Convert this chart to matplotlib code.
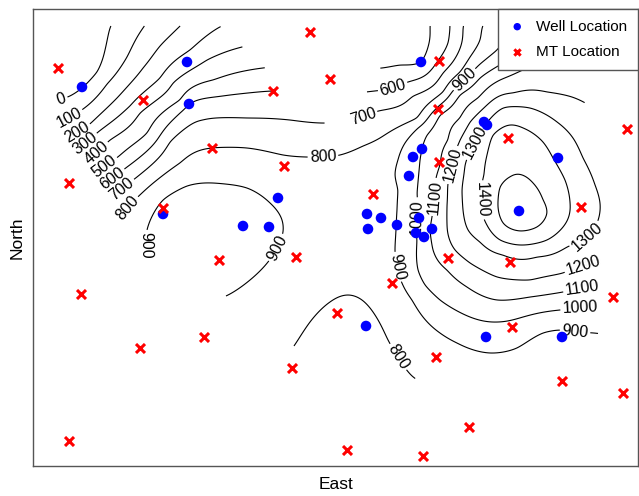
import numpy as np
import matplotlib
matplotlib.use("Agg")
import matplotlib.pyplot as plt
from matplotlib.path import Path

plt.rcParams['font.family'] = ['Liberation Sans', 'DejaVu Sans']

# map coordinates: east, and southing measured from the northern reference line
TOP = 500.0

well_e = [82, 187, 189, 163, 243, 269, 278, 421, 484, 487, 422, 413, 409, 367, 381, 368,
          397, 419, 416, 424, 432, 558, 519, 366, 486, 562]
well_s = [87, 62, 104, 214, 226, 227, 198, 62, 122, 125, 149, 157, 176, 214, 218, 229,
          225, 218, 233, 237, 229, 158, 211, 326, 337, 337]

mt_e = [58, 310, 330, 143, 273, 69, 212, 284, 163, 439, 438, 439, 373, 508, 627, 581,
        219, 296, 81, 140, 204, 292, 69, 347, 448, 392, 337, 510, 613, 512, 436, 562,
        623, 469, 423]
mt_s = [68, 32, 79, 100, 91, 183, 148, 166, 208, 61, 109, 162, 194, 138, 129, 207,
        260, 257, 294, 348, 337, 368, 441, 450, 258, 283, 313, 262, 297, 327, 357, 381,
        393, 427, 456]

# depth contour traces: (east, southing) points per level
iso_0 = [(56, 101), (70, 96), (82, 88), (97, 72), (105, 50), (110, 28)]
iso_100 = [(59, 122), (83, 109), (107, 84), (127, 57), (143, 28)]
iso_200 = [(67, 138), (90, 124), (117, 98), (143, 68), (160, 46), (178, 28)]
iso_300 = [(75, 150), (98, 132), (130, 106), (160, 78), (190, 50), (218, 28)]
iso_400 = [(86, 161), (110, 140), (140, 113), (173, 83), (207, 60), (242, 47)]
iso_500 = [(94, 175), (118, 157), (147, 133), (180, 100), (213, 80), (263, 68),
           (382, 68), (400, 65), (421, 62), (428, 47), (430, 28)]
iso_600 = [(101, 186), (127, 167), (157, 140), (180, 113), (189, 104), (230, 95), (273, 91),
           (366, 92), (393, 88), (408, 82), (437, 62), (448, 43), (450, 28)]
iso_700 = [(111, 198), (137, 177), (170, 142), (203, 120), (247, 118), (290, 120), (328, 123),
           (350, 120), (363, 117), (378, 111), (413, 96), (443, 73), (457, 55), (463, 28)]
iso_800 = [(119, 219), (142, 193), (180, 163), (212, 148), (247, 148), (283, 155), (307, 157),
           (323, 157), (340, 155), (363, 146), (380, 138), (417, 118), (443, 92), (460, 72),
           (470, 57), (480, 40), (482, 28),
           (296, 343), (310, 322), (330, 302), (348, 295), (362, 300), (375, 315), (388, 340),
           (398, 357), (412, 376)]
iso_900 = [(146, 252), (147, 230), (163, 200), (187, 186), (213, 183), (247, 188), (270, 203),
           (282, 220), (283, 232), (277, 248), (268, 262), (250, 280), (230, 294),
           (497, 50), (485, 60), (465, 80), (452, 92), (435, 110), (418, 128), (405, 143),
           (398, 160), (395, 175), (398, 190), (397, 210), (396, 230), (395, 250), (397, 267),
           (402, 283), (412, 300), (423, 317), (440, 333), (457, 343), (490, 353), (517, 348),
           (543, 333), (560, 330), (575, 332), (594, 333)]
iso_1000 = [(498, 66), (480, 78), (460, 95), (440, 115), (427, 135), (420, 160), (417, 193),
            (417, 217), (417, 240), (418, 270), (425, 285), (440, 300), (470, 317), (497, 322),
            (523, 317), (560, 310), (580, 308), (596, 308)]
iso_1100 = [(525, 69), (500, 80), (478, 98), (460, 118), (448, 140), (440, 165), (435, 197),
            (432, 217), (430, 230), (433, 250), (447, 270), (467, 287), (497, 300), (530, 297),
            (563, 292), (582, 288), (597, 287)]
iso_1200 = [(572, 97), (547, 92), (513, 93), (487, 105), (470, 122), (460, 140), (455, 152),
            (453, 165), (448, 183), (447, 205), (447, 223), (449, 238), (455, 250), (470, 263),
            (497, 277), (530, 280), (563, 273), (583, 265), (598, 262)]
iso_1300 = [(486, 124), (503, 108), (530, 108), (557, 122), (573, 138), (583, 158), (595, 185),
            (600, 203), (597, 223), (587, 237), (567, 247), (537, 257), (503, 255), (480, 242),
            (468, 230), (463, 210), (462, 190), (465, 165), (475, 142)]
iso_1400 = [(484, 175), (487, 155), (493, 135), (510, 125), (523, 128), (543, 142), (553, 158),
            (565, 180), (570, 203), (563, 227), (547, 240), (523, 245), (500, 240), (487, 225),
            (482, 200)]
iso_1500 = [(500, 187), (510, 177), (522, 175), (533, 183), (543, 200), (547, 213), (537, 227),
            (520, 231), (503, 223), (498, 207)]
# spot values inside plateaus / peak
spot_e = [520, 330, 360, 310, 370, 225, 200, 350, 220, 300]
spot_s = [205, 210, 265, 255, 185, 225, 245, 335, 166, 138]
spot_v = [1560, 855, 830, 855, 860, 950, 935, 770, 850, 750]

iso_traces = [(0, iso_0), (100, iso_100), (200, iso_200), (300, iso_300), (400, iso_400),
              (500, iso_500), (600, iso_600), (700, iso_700), (800, iso_800), (900, iso_900),
              (1000, iso_1000), (1100, iso_1100), (1200, iso_1200), (1300, iso_1300),
              (1400, iso_1400), (1500, iso_1500)]
levels = list(range(0, 1600, 100))

# extent of the gridded survey (east, southing)
domain = [(57, 100), (60, 124), (68, 140), (76, 152), (88, 163), (95, 177), (102, 189),
          (113, 201), (120, 222), (146, 258), (230, 298), (296, 348), (413, 380), (500, 363),
          (598, 338), (599, 300), (600, 265), (604, 230), (607, 190), (601, 140), (586, 103),
          (560, 68), (545, 25), (405, 25), (395, 45), (380, 67), (366, 92), (349, 123),
          (332, 127), (276, 93), (265, 68), (244, 47), (220, 25), (107, 25)]

# label anchor points (east, southing)
label_pts = [(61, 98), (68, 115), (77, 132), (85, 143), (97, 153), (105, 167), (112, 178),
             (123, 190), (130, 210), (148, 245), (323, 157), (277, 248), (393, 88), (363, 117),
             (465, 80), (397, 267), (417, 217), (435, 197), (453, 165), (475, 142), (482, 200),
             (587, 237), (583, 265), (582, 288), (580, 308), (575, 332), (398, 357)]

# ---- build control table
ce, cn, cv = [], [], []
for lev, pts in iso_traces:
    for e, s in pts:
        ce.append(e); cn.append(TOP - s); cv.append(lev)
for e, s, v in zip(spot_e, spot_s, spot_v):
    ce.append(e); cn.append(TOP - s); cv.append(v)
ce = np.array(ce, float); cn = np.array(cn, float); cv = np.array(cv, float)


def tps_fit_eval(x, y, v, gx, gy, lam=2e-3, sc=100.0):
    x = x / sc; y = y / sc; gx = gx / sc; gy = gy / sc
    def kern(d):
        with np.errstate(divide='ignore', invalid='ignore'):
            k = d * d * np.log(d)
        k[d == 0] = 0.0
        return k
    d = np.hypot(x[:, None] - x[None, :], y[:, None] - y[None, :])
    n = len(x)
    K = kern(d) + lam * np.eye(n)
    P = np.column_stack([np.ones(n), x, y])
    A = np.zeros((n + 3, n + 3))
    A[:n, :n] = K; A[:n, n:] = P; A[n:, :n] = P.T
    b = np.concatenate([v, np.zeros(3)])
    sol = np.linalg.solve(A, b)
    w, a = sol[:n], sol[n:]
    gxf = gx.ravel(); gyf = gy.ravel()
    out = np.empty(gxf.size)
    step = 8000
    for i in range(0, gxf.size, step):
        dd = np.hypot(gxf[i:i + step, None] - x[None, :], gyf[i:i + step, None] - y[None, :])
        out[i:i + step] = kern(dd) @ w + a[0] + a[1] * gxf[i:i + step] + a[2] * gyf[i:i + step]
    return out.reshape(gx.shape)


ge = np.arange(40, 616, 1.5)
gn = TOP - np.arange(20, 392, 1.5)
GE, GN = np.meshgrid(ge, gn)
Z = tps_fit_eval(ce, cn, cv, GE, GN)
poly = Path([(e, TOP - s) for e, s in domain])
inside = poly.contains_points(np.column_stack([GE.ravel(), GN.ravel()])).reshape(GE.shape)
Zm = np.ma.masked_where(~inside, Z)

# ---- figure
fig = plt.figure(figsize=(6.39, 4.96), dpi=100)
ax = fig.add_axes([33 / 639, (496 - 466) / 496, (638 - 33) / 639, (466 - 9) / 496])
ax.set_xlim(33, 638)
ax.set_ylim(TOP - 466, TOP - 9)

cs = ax.contour(GE, GN, Zm, levels=levels, colors='k', linewidths=0.8, zorder=1)
ax.clabel(cs, manual=[(e, TOP - s) for e, s in label_pts], inline=True, fmt='%d',
          fontsize=11.5, inline_spacing=2)

ax.scatter(well_e, [TOP - s for s in well_s], s=58, c='blue', marker='o',
           edgecolors='none', label='Well Location', zorder=3)
ax.scatter(mt_e, [TOP - s for s in mt_s], s=42, c='red', marker='x', linewidths=2.2,
           label='MT Location', zorder=3)

ax.set_xticks([]); ax.set_yticks([])
for sp in ax.spines.values():
    sp.set_color('#555555'); sp.set_linewidth(1.0)
ax.set_xlabel('East', fontsize=12.5, labelpad=8)
ax.set_ylabel('North', fontsize=12.5, labelpad=6)

leg = ax.legend(loc='upper right', bbox_to_anchor=(1.0, 1.0), borderaxespad=0.0,
                fontsize=11, markerscale=0.7, fancybox=False, framealpha=1.0,
                edgecolor='#555555', borderpad=0.7, labelspacing=0.75,
                handlelength=1.12, handletextpad=0.68)
leg.get_frame().set_linewidth(1.0)
leg.set_zorder(5)

fig.savefig('out.png', dpi=100)
